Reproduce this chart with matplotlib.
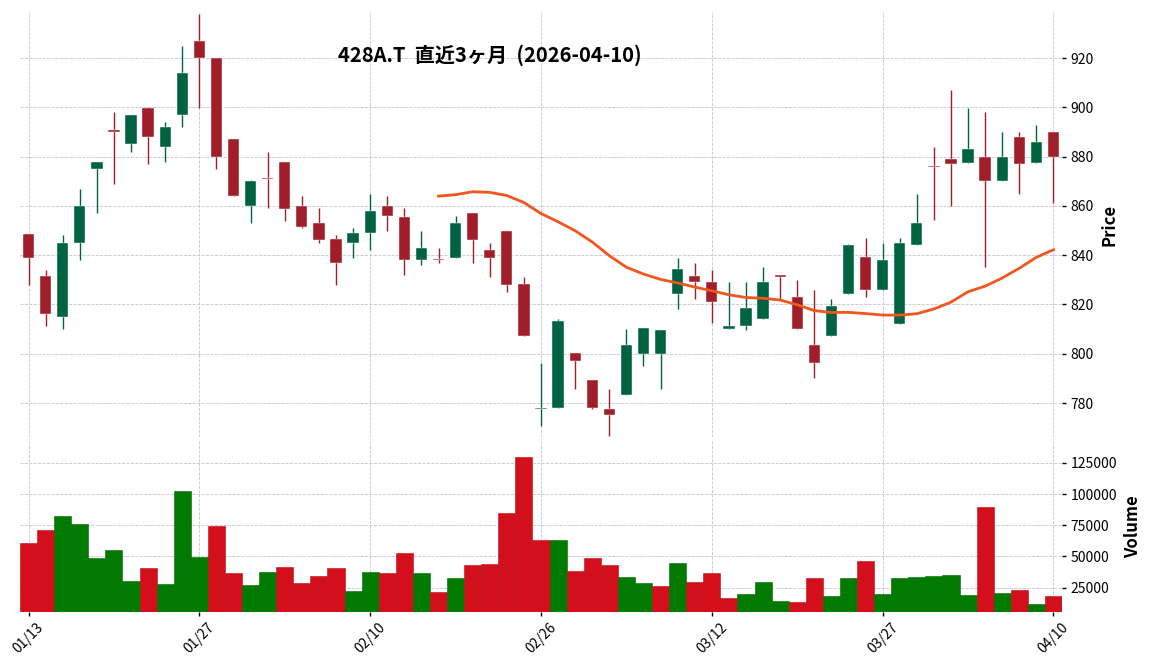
import matplotlib
matplotlib.use('Agg')
import matplotlib.pyplot as plt
import numpy as np
import pandas as pd

# --- data (428A.T, daily, 01/13 - 04/10) ---
opens = [848.4, 831.4, 814.9, 844.9, 874.9, 891.0, 885.0, 899.9, 883.8, 896.8,
         927.0, 920.1, 887.3, 859.9, 871.0, 878.0, 860.1, 853.2, 846.4, 844.9,
         848.9, 860.1, 855.3, 838.0, 838.4, 838.8, 857.3, 842.3, 850.0, 828.1,
         777.4, 778.0, 800.1, 789.2, 777.4, 783.2, 799.9, 799.9, 824.2, 831.4,
         829.3, 810.0, 811.2, 814.1, 831.5, 823.2, 803.4, 807.2, 824.2, 839.1,
         825.8, 812.0, 844.1, 876.0, 879.2, 877.6, 879.9, 870.0, 888.1, 877.6, 890.0]
highs = [848.5, 834.1, 848.2, 866.9, 878.0, 898.0, 897.0, 900.0, 894.1, 924.9,
         937.8, 920.1, 887.3, 870.7, 881.9, 878.0, 864.1, 859.2, 848.2, 851.1,
         864.7, 864.1, 859.1, 850.0, 843.0, 855.9, 857.3, 845.0, 850.0, 831.2,
         796.4, 814.2, 800.1, 789.2, 785.5, 810.1, 810.3, 809.5, 838.9, 836.9,
         834.1, 829.1, 829.1, 835.3, 831.9, 829.9, 825.9, 822.3, 844.6, 846.9,
         845.0, 846.9, 864.9, 883.9, 907.0, 899.7, 898.0, 889.9, 890.0, 892.7, 890.0]
lows = [827.8, 811.4, 810.1, 838.1, 857.2, 868.9, 881.9, 877.0, 877.8, 892.0,
        899.7, 875.0, 863.9, 853.1, 859.2, 853.8, 850.9, 844.9, 827.8, 838.9,
        842.3, 850.0, 832.0, 836.1, 836.9, 838.8, 836.9, 831.2, 825.1, 807.2,
        770.7, 778.0, 785.5, 777.4, 766.6, 783.2, 795.1, 785.5, 818.2, 822.3,
        812.3, 810.0, 809.5, 814.1, 822.4, 810.0, 790.3, 807.2, 824.2, 823.1,
        825.8, 812.0, 844.1, 854.1, 860.0, 877.6, 835.3, 870.0, 864.9, 877.6, 861.0]
closes = [838.8, 816.1, 845.1, 860.1, 878.0, 889.9, 897.0, 887.8, 892.2, 914.1,
          919.9, 879.7, 863.9, 870.3, 870.9, 858.9, 851.6, 846.1, 836.8, 849.2,
          858.1, 855.8, 838.0, 843.1, 838.0, 853.2, 846.1, 838.8, 827.8, 807.2,
          778.0, 813.1, 797.0, 778.0, 775.1, 803.4, 810.3, 809.5, 834.2, 829.1,
          820.9, 811.4, 818.4, 829.3, 831.2, 810.0, 796.2, 819.2, 844.3, 825.8,
          838.2, 845.1, 853.2, 875.7, 876.9, 883.2, 870.0, 879.9, 876.9, 886.1, 879.9]
volumes = [60800, 71200, 82400, 76000, 49000, 55200, 30400, 40800, 28000, 102400,
           49800, 74400, 36800, 27200, 37600, 41600, 28800, 34400, 40800, 22400,
           37600, 36800, 52800, 36800, 21600, 32800, 43200, 44000, 84800, 129600,
           63200, 63200, 38400, 48800, 43200, 33600, 28800, 26400, 44800, 29600,
           36800, 16800, 20000, 29600, 14400, 13600, 32800, 18400, 32800, 46400,
           20000, 32800, 33600, 34400, 35200, 19200, 89600, 20800, 23200, 12000, 18400]
tick_labels = ['01/13', '01/27', '02/10', '02/26', '03/12', '03/27', '04/10']
title = '428A.T  直近3ヶ月  (2026-04-10)'

plt.rcParams['font.family'] = ['Noto Sans CJK JP', 'DejaVu Sans']

df = pd.DataFrame({'open': opens, 'high': highs, 'low': lows,
                   'close': closes, 'volume': volumes})
x = np.arange(len(df))
ma25 = df['close'].rolling(25).mean()

UP, DOWN = '#006340', '#a01e29'
VUP, VDOWN = '#007a00', '#d40f1c'

up = df['close'] >= df['open']
candle_colors = np.where(up, UP, DOWN)
# volume colour follows close vs previous close
vol_up = df['close'].diff() >= 0
vol_up.iloc[0] = up.iloc[0]
vol_colors = np.where(vol_up, VUP, VDOWN)
vol_edges = np.where(vol_up, '#006a00', '#b80d18')

fig = plt.figure(figsize=(11.52, 6.70), dpi=100)
L, W = 20 / 1152, 1042 / 1152
ax = fig.add_axes([L, (670 - 437) / 670, W, (437 - 12) / 670])
axv = fig.add_axes([L, (670 - 612) / 670, W, (612 - 441) / 670], sharex=ax)

for a in (ax, axv):
    a.grid(True, linestyle='--', color='#c4c4c4', linewidth=0.6)
    a.set_axisbelow(True)
    for s in a.spines.values():
        s.set_visible(False)
    a.yaxis.tick_right()
    a.yaxis.set_label_position('right')
    a.tick_params(axis='y', length=3, width=1, labelsize=10, pad=3)

# candles
ax.vlines(x, df['low'], df['high'], colors=candle_colors, linewidth=1.0, zorder=2)
body_h = np.maximum((df['close'] - df['open']).abs(), 0.6)
body_b = np.minimum(df['open'], df['close'])
ax.bar(x, body_h, bottom=body_b, width=0.66, color=candle_colors,
       edgecolor='white', linewidth=0.3, zorder=3)
ax.plot(x, ma25, color='#f0561d', linewidth=2, zorder=4)

ax.set_ylim(766.2, 938.7)
ax.set_yticks(np.arange(780, 921, 20))
ax.set_ylabel('Price', fontsize=12, fontweight='bold', labelpad=5)
ax.tick_params(axis='x', length=0, labelbottom=False)

# volume
axv.bar(x, df['volume'], width=1.0, color=vol_colors, edgecolor=vol_edges,
        linewidth=0.4, zorder=2)
axv.set_ylim(5500, 142500)
axv.set_yticks(np.arange(25000, 125001, 25000))
axv.set_ylabel('Volume', fontsize=12, fontweight='bold', labelpad=5)
axv.set_xlim(-0.5, len(df) - 0.5)
axv.set_xticks(x[::10])
axv.set_xticklabels(tick_labels, rotation=45, fontsize=10)
axv.tick_params(axis='x', length=3, width=1, pad=3)

fig.text(490 / 1152, 1 - 55 / 670, title, ha='center', va='center',
         fontsize=14.5, fontweight='bold')

fig.savefig('out.png', dpi=100)
